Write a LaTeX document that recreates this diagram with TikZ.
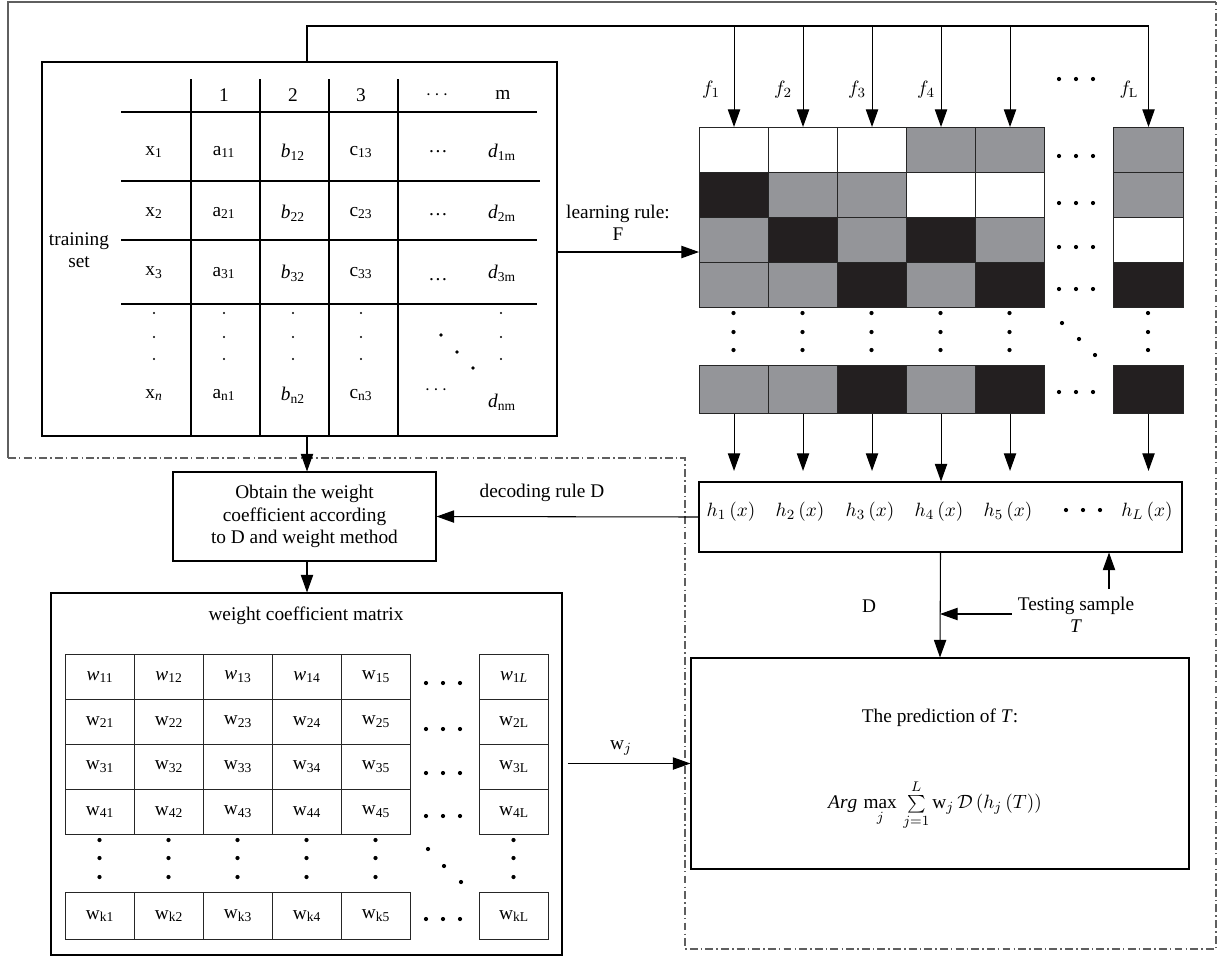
\documentclass[tikz,border=0pt]{standalone}
\usepackage{fontspec}
\setmainfont{Liberation Serif}
\usetikzlibrary{arrows.meta,positioning}

\definecolor{cellgray}{RGB}{148,149,153}
\definecolor{cellblack}{RGB}{35,31,32}
\definecolor{framegray}{RGB}{95,95,95}

\newcommand{\pxlen}{0.02cm}
\newcommand{\idx}[1]{\textsubscript{#1}}

\tikzset{
    box/.style={draw, inner sep=0pt},
    cell/.style={draw=black!85, inner sep=0pt, anchor=north west,
                 minimum width=69*\pxlen, minimum height=45*\pxlen},
    arr/.style={-{Triangle[length=10pt,width=7pt]}},
    frameline/.style={draw=framegray},
    dashdot/.style={draw=framegray, dash pattern=on 4.5pt off 1.8pt on 0.8pt off 1.8pt},
}

\begin{document}
\begin{tikzpicture}[x=0.02cm, y=-0.02cm, line width=0.6pt,
                    font=\fontsize{11}{12.8}\selectfont]
    \useasboundingbox (0,0) rectangle (1218,958);

    % -------------------------------
    % frame
    % -------------------------------
    \draw[frameline] (1216,2) -- (8,2) -- (8,458);
    \draw[dashdot] (8,458) -- (685,458) -- (685,949) -- (1216,949) -- (1216,2);

    % -------------------------------
    % training set
    % -------------------------------
    \node[box, minimum width=515*\pxlen, minimum height=374*\pxlen] (train) at (299.5,249) {};
    \node[align=center] (tset) at (79,250) {training\\set};

    % table lines
    \foreach \x in {191,260,329,398} {
        \draw (\x,79) -- (\x,436);
    }
    \foreach \y/\r in {112/537,181/540,240/537,304/537} {
        \draw (121,\y) -- (\r,\y);
    }

    % header
    \foreach \x/\t [count=\c] in {224/1, 293/2, 361/3, 437/$\cdots$, 503/m} {
        \node (hd-\c) at (\x,95) {\t};
    }
    % rows
    \foreach \y/\k/\e in {152/1/152, 213/2/215, 273/3/280} {
        \node (x-\k) at (154,\y) {x\idx{\k}};
        \node (a-\k) at (224,\y) {a\idx{\k1}};
        \node (b-\k) at (293,\y) {\textit{b}\idx{\k2}};
        \node (c-\k) at (361,\y) {c\idx{\k3}};
        \node (e-\k) at (438,\e) {\ldots};
        \node (d-\k) at (502,\y) {\textit{d}\idx{\k m}};
    }
    \node (x-n) at (154,395) {x\idx{\textit{n}}};
    \node (a-n) at (224,395) {a\idx{n1}};
    \node (b-n) at (293,395) {\textit{b}\idx{n2}};
    \node (c-n) at (361,395) {c\idx{n3}};
    \node (e-n) at (436,390) {$\cdots$};
    \node (d-n) at (502,402) {\textit{d}\idx{nm}};

    % dots
    \foreach \x in {154,224,293,361,501} {
        \foreach \y in {313,337,359} {
            \fill (\x,\y) circle[radius=0.7pt];
        }
    }
    \foreach \x/\y in {441/335,457/352,473/368} {
        \fill (\x,\y) circle[radius=1.1pt];
    }

    % -------------------------------
    % feature grid
    % -------------------------------
    \foreach \r/\row in {1/{white,white,white,cellgray,cellgray},
                         2/{cellblack,cellgray,cellgray,white,white},
                         3/{cellgray,cellblack,cellgray,cellblack,cellgray},
                         4/{cellgray,cellgray,cellblack,cellgray,cellblack}} {
        \foreach \f [count=\c] in \row {
            \node[cell, fill=\f] (g-\r-\c) at ({699+69*(\c-1)},{127+45*(\r-1)}) {};
        }
    }
    \foreach \r/\f in {1/cellgray,2/cellgray,3/white,4/cellblack} {
        \node[cell, fill=\f, minimum width=70*\pxlen] (g-\r-L) at (1113,{127+45*(\r-1)}) {};
    }
    % last row
    \foreach \f [count=\c] in {cellgray,cellgray,cellblack,cellgray,cellblack} {
        \node[cell, fill=\f, minimum height=48*\pxlen] (g-n-\c) at ({699+69*(\c-1)},365) {};
    }
    \node[cell, fill=cellblack, minimum width=70*\pxlen, minimum height=48*\pxlen] (g-n-L) at (1113,365) {};

    % dots
    \foreach \y in {79,156,203,247,289,392} {
        \foreach \dx in {-17,0,17} {
            \fill ({1076+\dx},\y) circle[radius=1.2pt];
        }
    }
    \foreach \x in {733.5,802.5,871.5,940.5,1009.5,1148} {
        \foreach \y in {313,332,350} {
            \fill (\x,\y) circle[radius=1.2pt];
        }
    }
    \foreach \x/\y in {1062/323,1079/339,1095/355} {
        \fill (\x,\y) circle[radius=1.2pt];
    }

    % feature labels
    \foreach \x/\k in {711/1,783/2,857/3,926/4} {
        \node (f-\k) at (\x,90) {$f_{\k}$};
    }
    \node (f-L) at (1129,90) {$f_{\mathrm{L}}$};

    % bus to the columns
    \coordinate (bus) at (307,26);
    \draw (train.north -| bus) -- (bus) -- (bus -| g-1-L);
    \foreach \c in {1,...,5} {
        \draw[arr] (bus -| g-1-\c) -- (g-1-\c.north);
    }
    \draw[arr] (bus -| g-1-L) -- (g-1-L.north);

    % learning rule
    \coordinate (lr) at (600,252);
    \draw[arr] (train.east |- lr) -- (g-1-1.west |- lr);
    \node[align=center] (lrlab) at (618,223) {learning rule:\\F};

    % -------------------------------
    % classifiers
    % -------------------------------
    \node[box, minimum width=483*\pxlen, minimum height=70*\pxlen] (hbox) at (940.5,517) {};
    \foreach \x/\k in {731/1,800/2,870/3,939/4,1008/5} {
        \node (h-\k) at (\x,512) {$h_{\k}\,(x)$};
    }
    \node (h-L) at (1147,512) {$h_L\,(x)$};
    \foreach \dx in {-17,0,17} {
        \fill ({1083+\dx},510) circle[radius=1.2pt];
    }

    \foreach \c in {1,2,3,5} {
        \draw[arr, shorten >=6pt] (g-n-\c.south) -- (g-n-\c.south |- hbox.north);
    }
    \draw[arr] (g-n-4.south) -- (g-n-4.south |- hbox.north);
    \draw[arr, shorten >=6pt] (g-n-L.south) -- (g-n-L.south |- hbox.north);

    % -------------------------------
    % weights
    % -------------------------------
    \node[box, minimum width=263*\pxlen, minimum height=89*\pxlen, align=center] (obtain) at (304.5,516.5)
        {Obtain the weight\\coefficient according\\to D and weight method};
    \draw[arr] (hbox.west) -- (obtain.east);
    \node (declab) at (542,493) {decoding rule D};
    \draw[arr] (train.south -| bus) -- (obtain.north -| bus);

    \node[box, minimum width=511*\pxlen, minimum height=362*\pxlen] (wmat) at (306.5,774) {};
    \node (wtitle) at (306,616) {weight coefficient matrix};
    \draw[arr] (obtain.south -| bus) -- (wmat.north -| bus);

    % matrix cells
    \foreach \c in {1,...,4} {
        \node[cell] (w-1-\c) at ({65+69*(\c-1)},654) {\textit{w}\idx{1\c}};
    }
    \node[cell] (w-1-5) at (341,654) {w\idx{15}};
    \node[cell] (w-1-L) at (479,654) {\textit{w}\idx{1\textit{L}}};
    \foreach \r in {2,3,4} {
        \foreach \c in {1,...,5} {
            \node[cell] (w-\r-\c) at ({65+69*(\c-1)},{654+45*(\r-1)}) {w\idx{\r\c}};
        }
        \node[cell] (w-\r-L) at (479,{654+45*(\r-1)}) {w\idx{\r L}};
    }
    \foreach \c in {1,...,5} {
        \node[cell, minimum height=47*\pxlen] (w-k-\c) at ({65+69*(\c-1)},892) {w\idx{k\c}};
    }
    \node[cell, minimum height=47*\pxlen] (w-k-L) at (479,892) {w\idx{kL}};

    % dots
    \foreach \y in {683,729,773,816,919} {
        \foreach \dx in {-17,0,17} {
            \fill ({443+\dx},\y) circle[radius=1.2pt];
        }
    }
    \foreach \x in {99.5,168.5,237.5,306.5,375.5,513.5} {
        \foreach \y in {840,858,877} {
            \fill (\x,\y) circle[radius=1.2pt];
        }
    }
    \foreach \x/\y in {428/849,444/866,461/882} {
        \fill (\x,\y) circle[radius=1.2pt];
    }

    % -------------------------------
    % prediction
    % -------------------------------
    \node[box, minimum width=498*\pxlen, minimum height=211*\pxlen] (pred) at (940,763.5) {};
    \node (ptitle) at (940,718) {The prediction of \textit{T}:};
    \node (formula) at (935,805)
        {$\mathit{Arg}\,\max\limits_{j}\,\sum\limits_{j=1}^{L}\mathrm{w}_j\,\mathcal{D}\,(h_j\,(T))$};

    \draw[arr] (hbox.south) -- (pred.north);
    \node (dlab) at (869,606) {D};

    \node[align=center] (tsl) at (1076,615) {Testing sample\\\textit{T}};
    \coordinate (ts) at (1003,614);
    \draw[arr] (tsl.west |- ts) -- (ts -| pred.north);
    \coordinate (up) at (1109,589);
    \draw[arr] (up) -- (up |- hbox.south);

    \draw[arr, shorten <=3pt] (wmat.east |- pred.west) -- (pred.west);
    \node (wj) at (621,748) {w$_j$};

\end{tikzpicture}
\end{document}
